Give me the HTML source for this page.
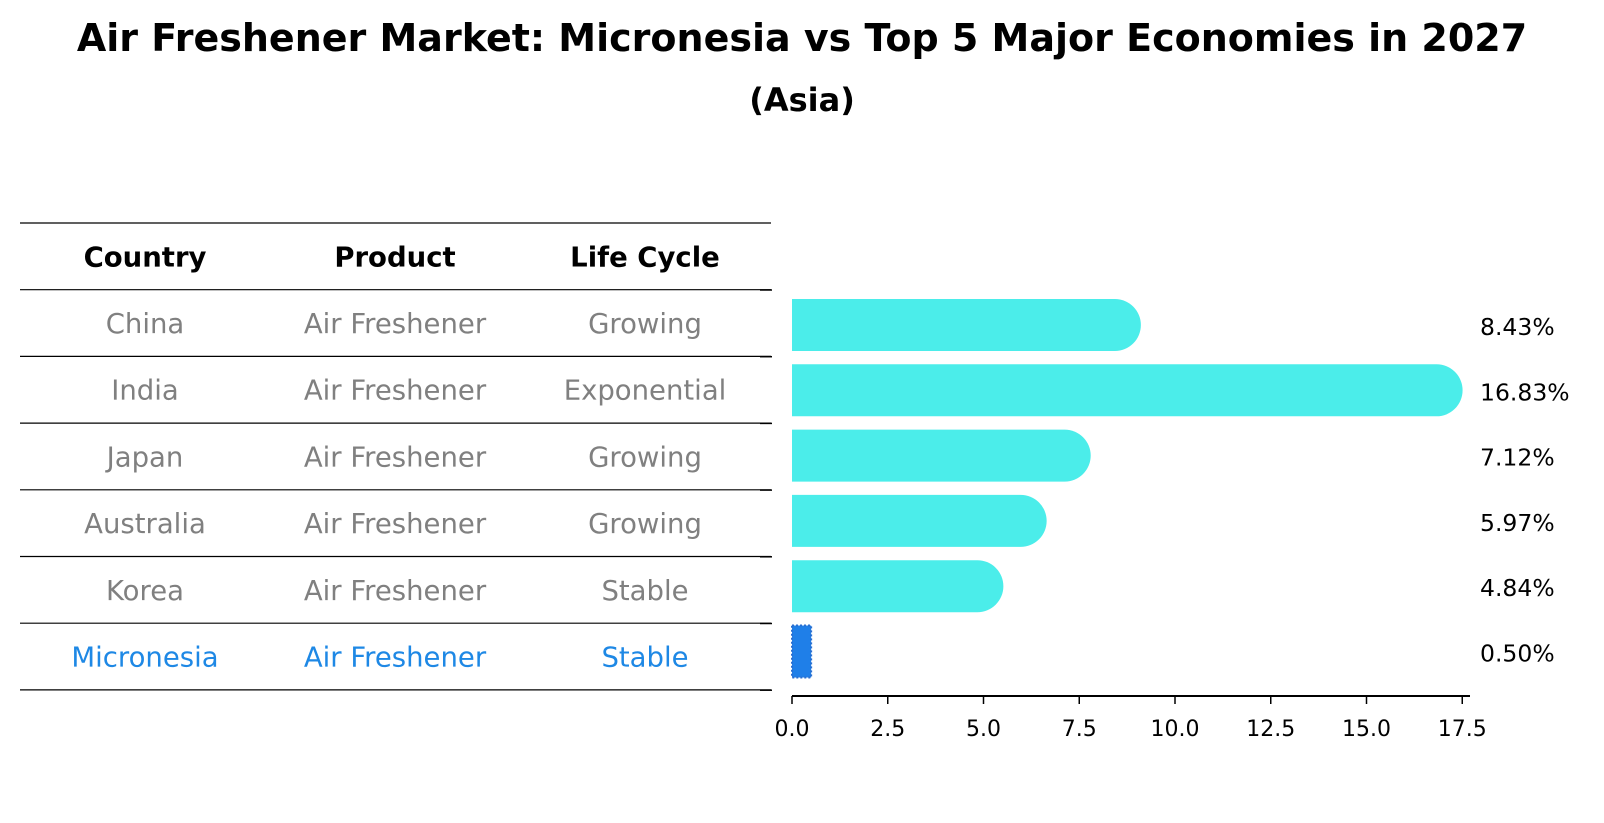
<!DOCTYPE html>
<html><head><meta charset="utf-8"><style>
body{margin:0;background:#fff;}
svg{display:block;font-family:"DejaVu Sans","Liberation Sans",sans-serif;}
</style></head><body>
<svg id="chart" width="1604" height="823" viewBox="0 0 1604 823">
<text x="802" y="51" text-anchor="middle" font-size="38" font-weight="bold" fill="#000">Air Freshener Market: Micronesia vs Top 5 Major Economies in 2027</text>
<text x="802" y="111" text-anchor="middle" font-size="32" font-weight="bold" fill="#000">(Asia)</text>
<g id="table"></g>
<g id="bars"></g>
</svg>
<script>
const countries = ["China","India","Japan","Australia","Korea","Micronesia"];
const products = ["Air Freshener","Air Freshener","Air Freshener","Air Freshener","Air Freshener","Air Freshener"];
const lifeCycles = ["Growing","Exponential","Growing","Growing","Stable","Stable"];
const values = [8.43,16.83,7.12,5.97,4.84,0.50];
const valueLabels = ["8.43%","16.83%","7.12%","5.97%","4.84%","0.50%"];
const xTicks = [0,2.5,5,7.5,10,12.5,15,17.5];
const xTickLabels = ["0.0","2.5","5.0","7.5","10.0","12.5","15.0","17.5"];

const NS="http://www.w3.org/2000/svg";
function mk(tag,attrs,parent){const e=document.createElementNS(NS,tag);for(const k in attrs)e.setAttribute(k,attrs[k]);parent.appendChild(e);return e;}
const table=document.getElementById('table');
const bars=document.getElementById('bars');

// table
const lineY=i=>223+i*66.7;
const colX=[145,395,645];
for(let i=0;i<=7;i++){
  const l=mk('line',{x1:20,x2:771,y1:lineY(i),y2:lineY(i),stroke:'#000','stroke-width':1.2},table);
  
  
}
const headers=["Country","Product","Life Cycle"];
headers.forEach((h,j)=>{
  const t=mk('text',{x:colX[j],y:lineY(0)+33.3+10,'text-anchor':'middle','font-size':27.5,'font-weight':'bold',fill:'#000'},table);
  t.textContent=h;
  
  
});
countries.forEach((c,i)=>{
  const col=(i===countries.length-1)?'#1e88e5':'#808080';
  [c,products[i],lifeCycles[i]].forEach((v,j)=>{
    const t=mk('text',{x:colX[j],y:lineY(i+1)+33.3+10,'text-anchor':'middle','font-size':27.5,fill:col},table);
    t.textContent=v;
    
    
  });
});

// bar chart axes
const x0=792, pxPerUnit=38.3;
const xScale=v=>x0+v*pxPerUnit;
const yCenter=i=>325+i*65.3;
const barH=52;
for(let i=0;i<=6;i++){
  const tk=mk('line',{x1:760,x2:772,y1:290+i*66.7,y2:290+i*66.7,stroke:'#000','stroke-width':1.5},bars);
  
  
}
const ax=mk('line',{x1:x0,x2:1470,y1:696,y2:696,stroke:'#000','stroke-width':2},bars);


xTicks.forEach((v,k)=>{
  const tk=mk('line',{x1:xScale(v),x2:xScale(v),y1:696,y2:704,stroke:'#000','stroke-width':1.5},bars);
  
  
  const t=mk('text',{x:xScale(v),y:736,'text-anchor':'middle','font-size':22,fill:'#000'},bars);
  t.textContent=xTickLabels[k];
  
  
});
values.forEach((v,i)=>{
  const yc=yCenter(i);
  const last=i===values.length-1;
  if(!last){
    const r=barH/2, xe=xScale(v);
    const p=mk('path',{d:`M${x0},${yc-r} L${xe},${yc-r} A${r},${r} 0 0 1 ${xe},${yc+r} L${x0},${yc+r} Z`,fill:'#4BEDEA'},bars);
    
    
  } else {
    const p=mk('rect',{x:x0,y:yc-barH/2,width:xScale(v)-x0,height:barH,fill:'#1f7fe8',stroke:'#2a6fd0','stroke-width':2,'stroke-dasharray':'2,2'},bars);
    
    
  }
  const t=mk('text',{x:1480,y:yc+10,'font-size':23.5,fill:'#000'},bars);
  t.textContent=valueLabels[i];
  
  
});
</script>
</body></html>
